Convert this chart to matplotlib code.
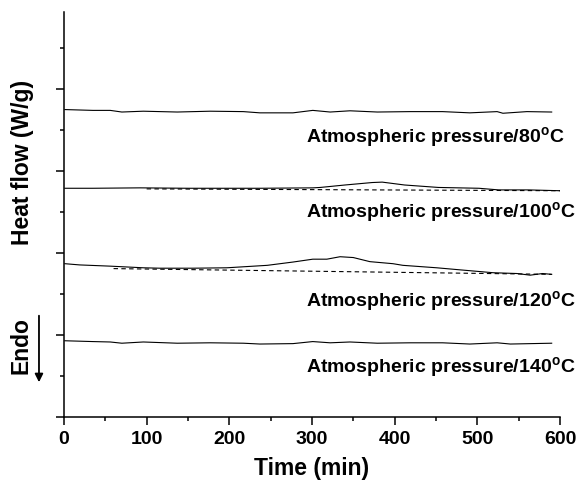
import matplotlib
matplotlib.use('Agg')
import matplotlib.pyplot as plt
from matplotlib.ticker import MultipleLocator, NullFormatter

plt.rcParams['font.family'] = ['Liberation Sans', 'DejaVu Sans']
plt.rcParams['font.weight'] = 'bold'
plt.rcParams['mathtext.fontset'] = 'custom'
plt.rcParams['mathtext.rm'] = 'Liberation Sans:bold'
plt.rcParams['mathtext.bf'] = 'Liberation Sans:bold'

# DSC traces (offset, arbitrary units) vs time in minutes
t80 = [1, 35, 56, 70, 96, 137, 177, 217, 237, 277, 301, 322, 346, 379, 419, 458, 491, 524, 531, 560, 590]
hf80 = [7.50, 7.48, 7.48, 7.44, 7.46, 7.44, 7.46, 7.45, 7.42, 7.42, 7.48, 7.44, 7.47, 7.44, 7.45, 7.45, 7.42, 7.45, 7.41, 7.45, 7.44]

t100 = [1, 35, 92, 150, 237, 301, 310, 340, 373, 385, 412, 453, 502, 526, 562, 600]
hf100 = [5.58, 5.58, 5.59, 5.58, 5.58, 5.59, 5.60, 5.66, 5.72, 5.73, 5.66, 5.60, 5.58, 5.54, 5.54, 5.52]
base100_t = [100, 600]
base100 = [5.565, 5.52]

t120 = [1, 19, 56, 96, 116, 156, 197, 246, 277, 301, 318, 334, 350, 370, 398, 410, 451, 479, 519, 548, 564, 579, 590]
hf120 = [3.74, 3.71, 3.68, 3.64, 3.63, 3.63, 3.64, 3.70, 3.78, 3.85, 3.85, 3.91, 3.89, 3.79, 3.74, 3.70, 3.64, 3.59, 3.52, 3.50, 3.46, 3.50, 3.48]
base120_t = [60, 590]
base120 = [3.62, 3.48]

t140 = [1, 35, 56, 70, 96, 137, 177, 217, 237, 277, 301, 322, 346, 379, 419, 458, 491, 524, 540, 590]
hf140 = [1.86, 1.84, 1.83, 1.80, 1.83, 1.80, 1.81, 1.80, 1.78, 1.79, 1.84, 1.81, 1.83, 1.80, 1.81, 1.81, 1.78, 1.81, 1.78, 1.80]

labels = ['Atmospheric pressure/80$^{\\mathbf{o}}$C',
          'Atmospheric pressure/100$^{\\mathbf{o}}$C',
          'Atmospheric pressure/120$^{\\mathbf{o}}$C',
          'Atmospheric pressure/140$^{\\mathbf{o}}$C']
label_y = [6.83, 5.0, 2.85, 1.24]

fig = plt.figure(figsize=(5.79, 4.89), dpi=100)
ax = fig.add_axes([0.1105, 0.1452, 0.8566, 0.8282])

ax.plot(t80, hf80, color='k', lw=0.8)
ax.plot(t100, hf100, color='k', lw=0.8)
ax.plot(base100_t, base100, color='k', lw=0.8, ls=(0, (4, 3)))
ax.plot(t120, hf120, color='k', lw=0.8)
ax.plot(base120_t, base120, color='k', lw=0.8, ls=(0, (4, 3)))
ax.plot(t140, hf140, color='k', lw=0.8)

for txt, y in zip(labels, label_y):
    ax.text(293, y, txt, fontsize=14, fontweight='bold', ha='left', va='center')

ax.set_xlim(0, 600)
ax.set_ylim(0, 9.88)
ax.xaxis.set_major_locator(MultipleLocator(100))
ax.xaxis.set_minor_locator(MultipleLocator(50))
ax.yaxis.set_major_locator(MultipleLocator(2))
ax.yaxis.set_minor_locator(MultipleLocator(1))
ax.yaxis.set_major_formatter(NullFormatter())

for s in ['top', 'right']:
    ax.spines[s].set_visible(False)
for s in ['left', 'bottom']:
    ax.spines[s].set_linewidth(1.1)
ax.tick_params(which='major', direction='out', length=5.5, width=1.1, labelsize=14, pad=4)
ax.tick_params(which='minor', direction='out', length=3, width=1.1)
for lab in ax.get_xticklabels():
    lab.set_fontweight('bold')

ax.set_xlabel('Time (min)', fontsize=16.5, fontweight='bold', labelpad=6)
ax.text(-0.083, 0.63, 'Heat flow (W/g)', transform=ax.transAxes, rotation=90,
        fontsize=16.5, fontweight='bold', ha='center', va='center')
ax.text(-0.087, 0.178, 'Endo', transform=ax.transAxes, rotation=90,
        fontsize=16.5, fontweight='bold', ha='center', va='center')
ax.annotate('', xy=(-0.0504, 0.079), xytext=(-0.0504, 0.257),
            xycoords='axes fraction', textcoords='axes fraction',
            arrowprops=dict(arrowstyle='-|>', color='k', lw=1.3, mutation_scale=12),
            annotation_clip=False)

plt.savefig('out.png', dpi=100)
